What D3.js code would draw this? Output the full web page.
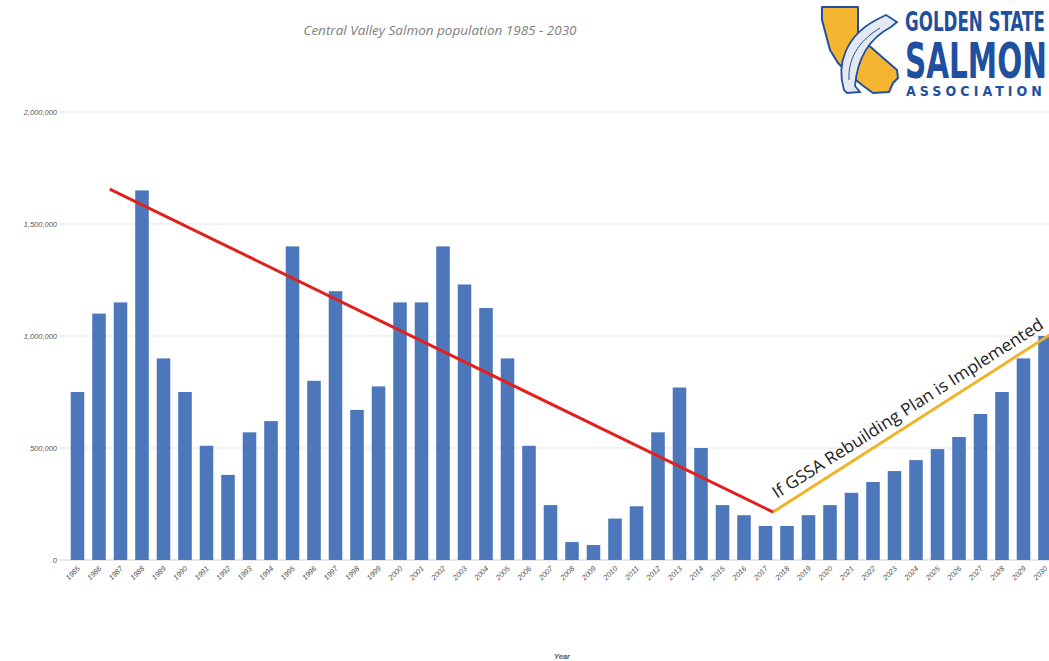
<!DOCTYPE html>
<html>
<head>
<meta charset="utf-8">
<script src="https://cdn.jsdelivr.net/npm/d3@7"></script>
<style>
  html, body { margin: 0; padding: 0; background: #fff; }
  svg { display: block; }
</style>
</head>
<body>
<svg id="chart" width="1049" height="661"></svg>
<script>
// ---- Data ----
const years = d3.range(1985, 2031).map(String);
const population = [
  750000, 1100000, 1150000, 1650000, 900000, 750000, 510000, 380000, 570000, 620000,
  1400000, 800000, 1200000, 670000, 775000, 1150000, 1150000, 1400000, 1230000, 1125000,
  900000, 510000, 245000, 80000, 67000, 185000, 240000, 570000, 770000, 500000,
  245000, 200000, 152000, 152000, 200000, 245000, 300000, 348000, 397000, 446000,
  495000, 549000, 652000, 750000, 900000, 1000000
];
const yTicks = [0, 500000, 1000000, 1500000, 2000000];
// trend lines: [fractional year, value]
const declineLine = [[1986.5, 1656000], [2017.35, 214000]];
const recoveryLine = [[2017.35, 214000], [2030.3, 1010000]];
const titleText = "Central Valley Salmon population 1985 - 2030";
const annotationText = "If GSSA Rebuilding Plan is Implemented";
const xAxisTitle = "Year";
const logoLines = ["GOLDEN STATE", "SALMON", "ASSOCIATION"];

// ---- Scales ----
const svg = d3.select("#chart");
const x = d3.scaleBand().domain(years).range([66.75, 1055.75]).paddingInner(0.37).paddingOuter(0.185);
const y = d3.scaleLinear().domain([0, 2000000]).range([560, 112]);
const xc = d3.scaleLinear().domain([1985, 2030])
  .range([x("1985") + x.bandwidth() / 2, x("2030") + x.bandwidth() / 2]);

// ---- Gridlines ----
svg.append("g").selectAll("line").data(yTicks).join("line")
  .attr("x1", 60).attr("x2", 1049)
  .attr("y1", d => y(d)).attr("y2", d => y(d))
  .attr("stroke", d => d === 0 ? "#cfcfcf" : "#e3e3e3").attr("stroke-width", 1.2);

// y labels
svg.append("g").selectAll("text").data(yTicks).join("text")
  .attr("x", 57).attr("y", d => y(d) + 3)
  .attr("text-anchor", "end")
  .attr("font-family", "'Liberation Sans', Arial, sans-serif")
  .attr("font-style", "italic")
  .attr("font-size", 7.5)
  .attr("fill", "#555")
  .text(d => d3.format(",")(d));

// ---- Bars ----
svg.append("g").selectAll("rect").data(years).join("rect")
  .attr("x", d => x(d))
  .attr("width", x.bandwidth())
  .attr("y", (d, i) => y(population[i]))
  .attr("height", (d, i) => y(0) - y(population[i]))
  .attr("fill", "#4d77bb");

// x labels
svg.append("g").selectAll("text").data(years).join("text")
  .attr("transform", d => `translate(${x(d) + x.bandwidth() / 2 + 3},${569}) rotate(-45)`)
  .attr("text-anchor", "end")
  .attr("font-family", "'Liberation Sans', Arial, sans-serif")
  .attr("font-style", "italic")
  .attr("font-size", 7.5)
  .attr("fill", "#555")
  .text(d => d);

// ---- Trend lines ----
const line = d3.line().x(d => xc(d[0])).y(d => y(d[1]));
svg.append("path").datum(recoveryLine).attr("d", line)
  .attr("fill", "none").attr("stroke", "#f0b429").attr("stroke-width", 3);
svg.append("path").datum(declineLine).attr("d", line)
  .attr("fill", "none").attr("stroke", "#e0211d").attr("stroke-width", 3);

// annotation along recovery line
const p0 = [xc(recoveryLine[0][0]), y(recoveryLine[0][1])];
const p1 = [xc(recoveryLine[1][0]), y(recoveryLine[1][1])];
const ang = Math.atan2(p1[1] - p0[1], p1[0] - p0[0]) * 180 / Math.PI;
svg.append("text")
  .attr("transform", `translate(${p0[0] + 4},${p0[1] - 13}) rotate(${ang})`)
  .attr("font-family", "'Open Sans', 'Noto Sans', sans-serif")
  .attr("font-size", 17)
  .attr("font-weight", 500)
  .attr("fill", "#222")
  .attr("textLength", 318)
  .attr("lengthAdjust", "spacingAndGlyphs")
  .text(annotationText);

// ---- Titles ----
svg.append("text")
  .attr("x", 440).attr("y", 35)
  .attr("text-anchor", "middle")
  .attr("font-family", "'Open Sans', 'Noto Sans', sans-serif")
  .attr("font-style", "italic")
  .attr("font-size", 13.5)
  .attr("fill", "#808080")
  .text(titleText);

svg.append("text")
  .attr("x", 562).attr("y", 659)
  .attr("text-anchor", "middle")
  .attr("font-family", "'Liberation Sans', Arial, sans-serif")
  .attr("font-style", "italic")
  .attr("font-weight", "bold")
  .attr("font-size", 7.5)
  .attr("fill", "#555")
  .text(xAxisTitle);

// ---- Logo ----
const logo = svg.append("g");
const blue = "#1f50a0";
logo.append("path")
  .attr("d", "M822,7 L858,7 L858,36 L897,70 L898,78 L893,83 L889,92 L873,93 L862,85 L850,75 L838,63 L830,50 L826,35 L822,20 Z")
  .attr("fill", "#f6b530").attr("stroke", blue).attr("stroke-width", 2).attr("stroke-linejoin", "round");
logo.append("path")
  .attr("d", "M844,90 C836,64 846,36 876,20 L886,15 L897,22 L891,27 C866,40 857,62 855,86 L860,92 L847,93 Z")
  .attr("fill", "#e4e9f0").attr("stroke", blue).attr("stroke-width", 1.8);
logo.append("path")
  .attr("d", "M849,80 C848,60 857,42 880,28")
  .attr("fill", "none").attr("stroke", blue).attr("stroke-width", 1);
const logoFont = "'Liberation Sans Narrow', 'DejaVu Sans Condensed', 'Roboto', sans-serif";
const logoSpec = [
  { x: 905, y: 31, size: 26, w: 140, spacing: false },
  { x: 905, y: 78, size: 50, w: 142, spacing: false },
  { x: 906, y: 96, size: 14, w: 140, spacing: true }
];
logoLines.forEach((t, i) => {
  const s = logoSpec[i];
  const el = logo.append("text")
    .attr("font-family", logoFont).attr("font-weight", "bold").attr("font-size", s.size)
    .attr("fill", blue).text(t);
  const natural = el.node().getComputedTextLength();
  if (s.spacing) {
    const ls = (s.w - natural) / t.length;
    el.attr("letter-spacing", ls).attr("transform", `translate(${s.x},${s.y})`);
  } else {
    el.attr("transform", `translate(${s.x},${s.y}) scale(${s.w / natural},1)`);
  }
});
</script>
</body>
</html>
